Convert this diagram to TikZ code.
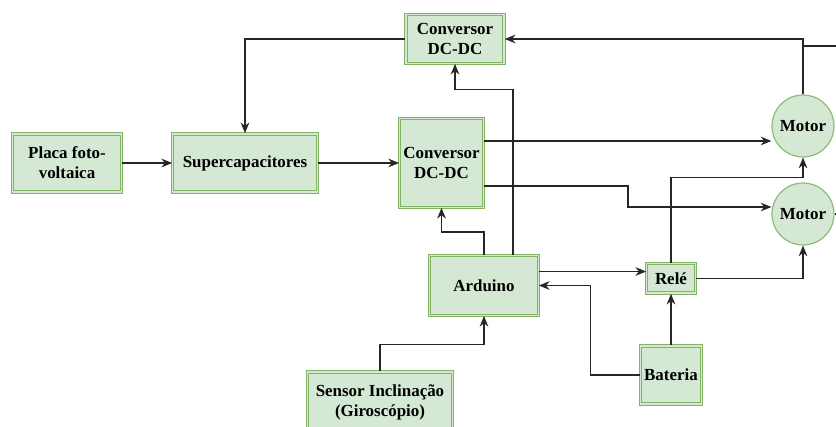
\documentclass[tikz,border=0pt]{standalone}
\usepackage{fontspec}
\setmainfont{Liberation Serif}
\usepackage{xcolor}
\usetikzlibrary{arrows.meta, positioning}
\definecolor{blockfill}{HTML}{D5E8D4}
\definecolor{blockline}{HTML}{82B366}
\tikzset{
  block/.style={
    rectangle, draw=blockline, double=blockfill, double distance=1.3pt,
    line width=0.75pt, fill=blockfill, inner sep=2pt,
    align=center, font=\fontsize{12.7}{15}\selectfont\bfseries
  },
  motor/.style={
    circle, draw=blockline!90, line width=0.9pt, fill=blockfill,
    minimum size=46.5pt, inner sep=0pt,
    align=center, font=\fontsize{12.7}{15}\selectfont\bfseries
  },
  arrow/.style={-{Stealth[length=8pt,width=6.5pt]}, line width=0.85pt, draw=black!85},
  wire/.style={line width=0.85pt, draw=black!85}
}
\begin{document}
\begin{tikzpicture}[x=0.75pt, y=-0.75pt]
  \useasboundingbox (0,0) rectangle (836,427);
  \clip (0,0) rectangle (836,427);

  \node[block, minimum width=81.6pt, minimum height=44pt] at (67,163) (placa) {Placa foto-\\voltaica};
  \node[block, minimum width=108.6pt, minimum height=44pt] at (245,163) (supcap) {Supercapacitores};
  \node[block, minimum width=74pt, minimum height=36.6pt] at (455,39) (convtop) {Conversor\\DC-DC};
  \node[block, minimum width=63pt, minimum height=66.6pt] at (441.5,163) (convmid) {Conversor\\DC-DC};
  \node[block, minimum width=81.6pt, minimum height=45pt] at (484,285.5) (arduino) {Arduino};
  \node[block, minimum width=36.6pt, minimum height=22.3pt] at (671,278.5) (relay) {Relé};
  \node[block, minimum width=45.6pt, minimum height=44pt] at (671,375) (bateria) {Bateria};
  \node[block, minimum width=108.6pt, minimum height=45pt] at (380,402) (sensor) {Sensor Inclinação\\(Giroscópio)};
  \node[motor] at (803,126) (motorA) {Motor};
  \node[motor] at (803,214) (motorB) {Motor};
  \coordinate (loop) at (803,46);

  \draw[arrow] (placa) -- (supcap);
  \draw[arrow] (supcap) -- (convmid);
  \draw[arrow] (convtop.west) -| (supcap.north);
  \draw[arrow] (motorA.north) |- (convtop.east);
  \draw[wire] (motorB.east) -- ++(12,0) |- (loop);
  \draw[arrow] ([xshift=21.75pt]arduino.north) |- ([yshift=-19.5pt]convtop.south) -- (convtop.south);
  \draw[arrow] (arduino.north) -- ++(0,-23) -| (convmid.south);
  \draw[arrow] (sensor.north) -- ++(0,-27) -| (arduino.south);
  \draw[arrow] ([yshift=10.5pt]arduino.east) -- ([yshift=10.5pt]arduino.east -| relay.west);
  \draw[arrow] (bateria.west) -- ++(-50,0) |- (arduino.east);
  \draw[arrow] (bateria) -- (relay);
  \draw[arrow] (relay.north) -- ++(0,-86) -| (motorA.south);
  \draw[arrow] (relay.east) -| (motorB.south);
  \draw[arrow] ([yshift=16.5pt]convmid.east) -- ([yshift=16.5pt]convmid.east -| motorA.west);
  \draw[arrow] ([yshift=-17.25pt]convmid.east) -- ++(144,0) |- ([yshift=5.25pt]motorB.west);
\end{tikzpicture}
\end{document}
